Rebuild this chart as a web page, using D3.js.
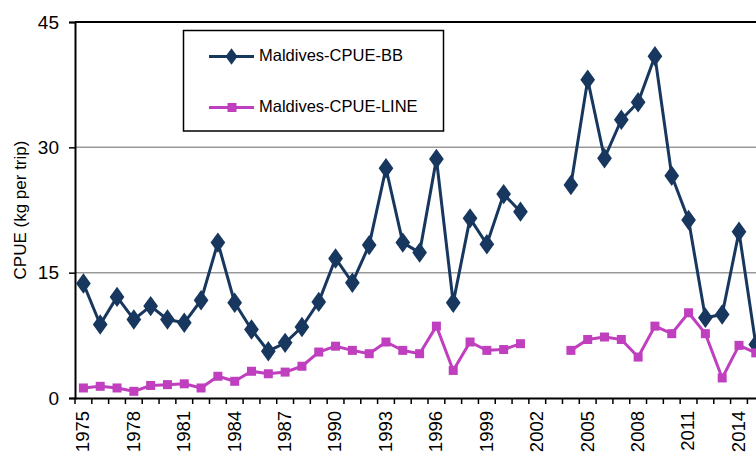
<!DOCTYPE html>
<html><head><meta charset="utf-8">
<script src="https://cdn.jsdelivr.net/npm/d3@7"></script>
<style>html,body{margin:0;padding:0;background:#fff;overflow:hidden}</style>
</head><body>
<svg id="c" width="756" height="458"></svg>
<script>
const years = d3.range(1975, 2017);
const cpueBB = [13.7,8.8,12.1,9.4,11.0,9.4,9.0,11.7,18.6,11.4,8.2,5.6,6.6,8.5,11.5,16.7,13.8,18.3,27.5,18.6,17.4,28.6,11.4,21.5,18.4,24.4,22.3,null,null,25.5,38.1,28.7,33.3,35.4,40.9,26.6,21.3,9.6,10.0,19.9,6.4,null];
const cpueLINE = [1.2,1.4,1.2,0.8,1.5,1.6,1.7,1.2,2.6,2.0,3.2,2.9,3.1,3.8,5.5,6.2,5.7,5.3,6.7,5.7,5.3,8.6,3.3,6.7,5.7,5.8,6.5,null,null,5.7,7.0,7.3,7.0,4.9,8.6,7.7,10.2,7.7,2.4,6.3,5.4,null];
const yTicks = [0,15,30,45];
const xLabelYears = d3.range(1975, 2017, 3);
const seriesNames = ["Maldives-CPUE-BB","Maldives-CPUE-LINE"];
const colors = ["#17375E","#BF3FBF"];

const svg = d3.select("#c");
const L = 75, T = 22, B = 398, step = 16.81;
const x = d3.scaleBand().domain(years).range([L, L + step*years.length]).padding(0);
const y = d3.scaleLinear().domain([0,45]).range([B, T]);

// gridlines
svg.append("g").selectAll("line").data([15,30]).join("line")
  .attr("x1", L).attr("x2", 800).attr("y1", d=>y(d)).attr("y2", d=>y(d))
  .attr("stroke", "#999").attr("stroke-width", 1.5);
// top border
svg.append("line").attr("x1", L).attr("x2", 800).attr("y1", y(45)).attr("y2", y(45))
  .attr("stroke", "#000").attr("stroke-width", 2);

// y axis
const ya = svg.append("g").attr("transform", `translate(${L},0)`)
  .call(d3.axisLeft(y).tickValues(yTicks).tickSize(6).tickPadding(10));
ya.select(".domain").attr("stroke","#000").attr("stroke-width",2);
ya.selectAll(".tick line").attr("stroke","#000").attr("stroke-width",1.5);
ya.selectAll("text").attr("font-family","Liberation Sans, Arial, sans-serif").attr("font-size",19).attr("fill","#000");

// x axis
const xa = svg.append("g").attr("transform", `translate(0,${B})`)
  .call(d3.axisBottom(x).tickValues([]).tickSizeOuter(0));
xa.select(".domain").attr("stroke","#000").attr("stroke-width",2);
xa.append("g").selectAll("line").data(years.concat([2017])).join("line")
  .attr("x1", d=> d===2017 ? x(2016)+step : x(d)).attr("x2", d=> d===2017 ? x(2016)+step : x(d))
  .attr("y1",0).attr("y2",6).attr("stroke","#000").attr("stroke-width",1.5);
xa.append("g").selectAll("text").data(xLabelYears).join("text")
  .attr("transform", d=>`translate(${x(d)+x.bandwidth()/2+1},${13}) rotate(-90)`)
  .attr("text-anchor","end").attr("dominant-baseline","middle")
  .attr("font-family","Liberation Sans, Arial, sans-serif").attr("font-size",18.5).attr("fill","#000")
  .text(d=>d);

// y title
svg.append("text").attr("transform", `translate(22,${(T+B)/2}) rotate(-90)`)
  .attr("text-anchor","middle").attr("dominant-baseline","middle")
  .attr("font-family","Liberation Sans, Arial, sans-serif").attr("font-size",17).attr("fill","#000")
  .text("CPUE (kg per trip)");

const cx = d => x(d) + x.bandwidth()/2;
const line = d3.line().defined(d=>d[1]!==null).x(d=>cx(d[0])).y(d=>y(d[1]));

const data = [cpueBB, cpueLINE];
data.forEach((vals, i) => {
  const pts = years.map((yr, j) => [yr, vals[j]]);
  svg.append("path").datum(pts).attr("d", line).attr("fill","none")
    .attr("stroke", colors[i]).attr("stroke-width", 3).attr("stroke-linejoin","round");
  const valid = pts.filter(p=>p[1]!==null);
  if (i===0) {
    svg.append("g").selectAll("path").data(valid).join("path")
      .attr("d", d3.symbol().type(d3.symbolDiamond).size(120))
      .attr("transform", d=>`translate(${cx(d[0])},${y(d[1])}) scale(1.25,1)`)
      .attr("fill", colors[0]);
  } else {
    svg.append("g").selectAll("rect").data(valid).join("rect")
      .attr("x", d=>cx(d[0])-4.5).attr("y", d=>y(d[1])-4.5).attr("width",9).attr("height",9)
      .attr("fill", colors[1]);
  }
});

// legend
const lg = svg.append("g");
lg.append("rect").attr("x",183.5).attr("y",30.5).attr("width",260).attr("height",100.5)
  .attr("fill","#fff").attr("stroke","#000").attr("stroke-width",1.5);
const ly = [56.5, 107.5];
seriesNames.forEach((n,i)=>{
  lg.append("line").attr("x1",209).attr("x2",254).attr("y1",ly[i]).attr("y2",ly[i])
    .attr("stroke",colors[i]).attr("stroke-width",3);
  if (i===0) {
    lg.append("path").attr("d", d3.symbol().type(d3.symbolDiamond).size(80)())
      .attr("transform",`translate(231.5,${ly[i]}) scale(1.25,1)`).attr("fill",colors[0]);
  } else {
    lg.append("rect").attr("x",227.5).attr("y",ly[i]-4.5).attr("width",9).attr("height",9).attr("fill",colors[1]);
  }
  lg.append("text").attr("x",259).attr("y",ly[i]).attr("dominant-baseline","middle")
    .attr("font-family","Liberation Sans, Arial, sans-serif").attr("font-size",16.5).attr("fill","#000")
    .text(n);
});
</script>
</body></html>
